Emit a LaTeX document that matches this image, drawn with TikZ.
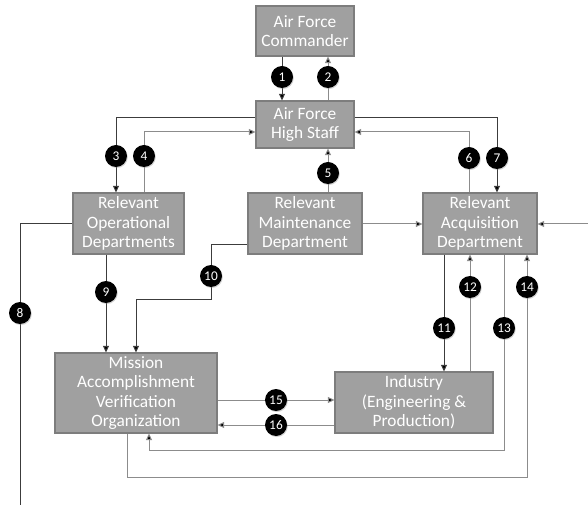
\documentclass[tikz,border=0pt]{standalone}
\usepackage{fontspec}
\setmainfont{Carlito}
\usetikzlibrary{arrows.meta,shadows}

\definecolor{boxfill}{RGB}{160,160,160}
\definecolor{boxedge}{RGB}{125,125,125}
\definecolor{darkline}{RGB}{60,60,60}
\definecolor{lightline}{RGB}{140,140,140}

\tikzset{
  unit/.style={draw=boxedge, fill=boxfill, line width=0.8pt, inner sep=0pt,
    align=center, text=white, font=\fontsize{13}{14.6}\selectfont},
  badge/.style={circle, fill=black, minimum size=16.5pt, inner sep=0pt,
    text=white, font=\fontsize{10}{10}\selectfont,
    drop shadow={opacity=0.35, shadow xshift=0.6pt, shadow yshift=-0.8pt}},
  flow/.style={draw=darkline, line width=0.75pt,
    -{Triangle[length=5pt,width=4.5pt,fill=black]}},
  flowlt/.style={flow, draw=lightline},
  plain/.style={draw=darkline, line width=0.75pt},
}

\begin{document}
\begin{tikzpicture}[x=0.75pt,y=-0.75pt]
\useasboundingbox (0,0) rectangle (588,505);

% organisational units
\node[unit, minimum width=73.5pt, minimum height=37.5pt] (cmd) at (305,31)
  {Air Force\\Commander};
\node[unit, minimum width=73.5pt, minimum height=35.25pt] (hs) at (305,124.5)
  {Air Force\\High Staff};
\node[unit, minimum width=83.25pt, minimum height=45.75pt] (op) at (128.5,223.5)
  {Relevant\\Operational\\Departments};
\node[unit, minimum width=85.5pt, minimum height=45.75pt] (mt) at (305,223.5)
  {Relevant\\Maintenance\\Department};
\node[unit, minimum width=85.5pt, minimum height=45.75pt] (aq) at (480,223.5)
  {Relevant\\Acquisition\\Department};
\node[unit, minimum width=121.5pt, minimum height=60pt] (mv) at (136,393)
  {Mission\\Accomplishment\\Verification\\Organization};
\node[unit, minimum width=118.5pt, minimum height=45.75pt] (ind) at (414,402.5)
  {Industry\\(Engineering \&\\Production)};

% reference columns and rows for the routed connectors
\coordinate (k1) at (282,0);
\coordinate (k2) at (328,0);
\coordinate (k3) at (116,0);
\coordinate (k4) at (144,0);
\coordinate (k6) at (469,0);
\coordinate (k7) at (497,0);
\coordinate (k8) at (20,0);
\coordinate (k9) at (106,0);
\coordinate (k10) at (211,0);
\coordinate (k10b) at (136,0);
\coordinate (k11) at (444,0);
\coordinate (k12) at (470,0);
\coordinate (k13) at (504,0);
\coordinate (k13b) at (149,0);
\coordinate (k14) at (527,0);
\coordinate (k14b) at (127,0);
\coordinate (rUp) at (0,118);
\coordinate (rDn) at (0,132);
\coordinate (rMid) at (0,224);
\coordinate (r10) at (0,245);
\coordinate (r10b) at (0,300);
\coordinate (r15) at (0,400);
\coordinate (r16) at (0,425);
\coordinate (r13) at (0,450);
\coordinate (r14) at (0,477);
\coordinate (extIn) at (588,224);
\coordinate (extOut) at (20,505);

% connectors
\draw[flow]   (cmd.south -| k1) -- (hs.north -| k1);
\draw[flowlt] (hs.north -| k2) -- (cmd.south -| k2);
\draw[flow]   (hs.west |- rUp) -| (op.north -| k3);
\draw[flowlt] (op.north -| k4) |- (hs.west |- rDn);
\draw[flowlt] (mt.north -| k2) -- (hs.south -| k2);
\draw[flowlt] (aq.north -| k6) |- (hs.east |- rDn);
\draw[flow]   (hs.east |- rUp) -| (aq.north -| k7);
\draw[plain]  (op.west |- rMid) -| (extOut);
\draw[flow]   (op.south -| k9) -- (mv.north -| k9);
\draw[flow]   (mt.west |- r10) -| (k10 |- r10b) -| (mv.north -| k10b);
\draw[flowlt] (mt.east |- rMid) -- (aq.west |- rMid);
\draw[flowlt] (extIn) -- (aq.east |- rMid);
\draw[flow]   (aq.south -| k11) -- (ind.north -| k11);
\draw[flowlt] (ind.north -| k12) -- (aq.south -| k12);
\draw[flowlt] (aq.south -| k13) |- (k13b |- r13) -- (mv.south -| k13b);
\draw[flowlt] (mv.south -| k14b) |- (k14 |- r14) -- (aq.south -| k14);
\draw[flowlt] (mv.east |- r15) -- (ind.west |- r15);
\draw[flowlt] (ind.west |- r16) -- (mv.east |- r16);

% numbered markers
\node[badge] (n1)  at (282,77)  {1};
\node[badge] (n2)  at (328,77)  {2};
\node[badge] (n3)  at (116,156) {3};
\node[badge] (n4)  at (144,156) {4};
\node[badge] (n5)  at (328,173) {5};
\node[badge] (n6)  at (469,158) {6};
\node[badge] (n7)  at (497,158) {7};
\node[badge] (n8)  at (20,313)  {8};
\node[badge] (n9)  at (106,292) {9};
\node[badge] (n10) at (211,276) {10};
\node[badge] (n11) at (444,328) {11};
\node[badge] (n12) at (470,287) {12};
\node[badge] (n13) at (504,328) {13};
\node[badge] (n14) at (527,287) {14};
\node[badge] (n15) at (276,400) {15};
\node[badge] (n16) at (276,425) {16};
\end{tikzpicture}
\end{document}
